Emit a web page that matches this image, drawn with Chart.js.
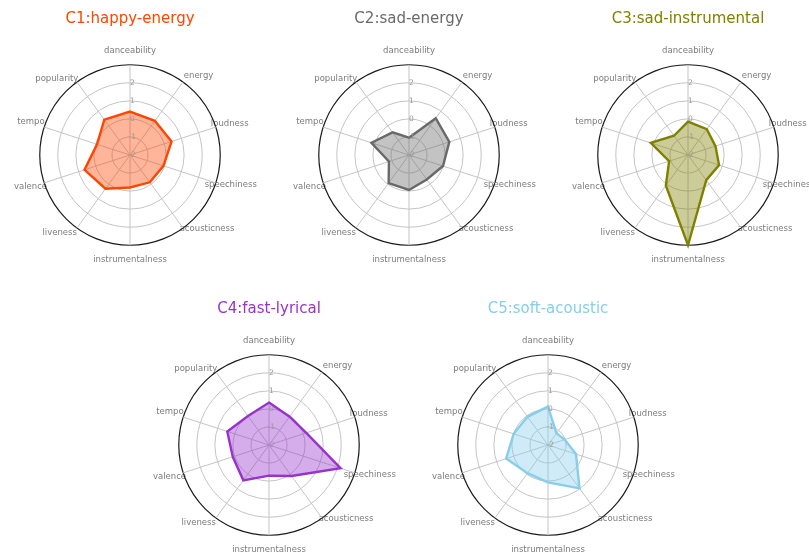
<!DOCTYPE html>
<html>
<head>
<meta charset="utf-8">
<title>Cluster profiles</title>
<script src="https://cdn.jsdelivr.net/npm/chart.js@4"></script>
<style>
  html, body { margin: 0; padding: 0; background: #ffffff; overflow: hidden; }
  body { position: relative; width: 809px; height: 556px; }
  .panel { position: absolute; }
  .panel canvas { display: block; }
</style>
</head>
<body>
<script>
// ---- data -------------------------------------------------------------
const features = ['danceability', 'energy', 'loudness', 'speechiness', 'acousticness',
                  'instrumentalness', 'liveness', 'valence', 'tempo', 'popularity'];

const clusterTitles = ['C1:happy-energy', 'C2:sad-energy', 'C3:sad-instrumental',
                       'C4:fast-lyrical', 'C5:soft-acoustic'];

// standardized feature means per cluster (same order as features)
const happyEnergy     = [0.41, 0.34, 0.42, -0.05, -0.13, -0.20, 0.31, 0.65, -0.08, 0.42];
const sadEnergy       = [-1.04, 0.52, 0.35, -0.02, -0.32, -0.06, -0.08, -0.83, 0.19, -0.45];
const sadInstrumental = [-0.15, -0.23, -0.40, -0.19, -0.28, 3.00, 0.09, -0.90, 0.17, -0.68];
const fastLyrical     = [0.35, -0.06, 0.17, 2.17, 0.12, -0.30, 0.42, 0.11, 0.43, -0.02];
const softAcoustic    = [0.13, -1.20, -1.03, -0.37, 0.97, 0.07, -0.07, 0.44, 0.00, -0.07];

const clusterValues = [happyEnergy, sadEnergy, sadInstrumental, fastLyrical, softAcoustic];

// radial axis
const scaleMin = -2;
const scaleMax = 3;
const scaleTicks = [-2, -1, 0, 1, 2];

// ---- styling & layout -------------------------------------------------
const FONT = "'DejaVu Sans', 'Liberation Sans', sans-serif";
const clusterColors = ['#ff4500', '#696969', '#808000', '#9932cc', '#87ceeb'];
const FILL_ALPHA = 0.4;

// polar centers of the five panels (two rows)
const panelCenters = [[130, 155], [409, 155], [688, 155], [269, 445], [548, 445]];
const POLAR_RADIUS = 90;     // radius of the outer ring
const TITLE_GAP = 136;       // distance from title middle to polar center
const TITLE_SIZE = 15;
const TITLE_PAD_TOP = 4;

// per-feature spacing of the feature names from the outer ring
const LABEL_PAD = [5.4, -2.5, -9, -15.5, -9.5, 5.4, -3.7, -6.8, -4.2, -6.2];

function withAlpha(hex, a) {
  const n = parseInt(hex.slice(1), 16);
  return `rgba(${(n >> 16) & 255}, ${(n >> 8) & 255}, ${n & 255}, ${a})`;
}

// keep each title centred above its own polar axis
const centerTitleOnPolar = {
  id: 'centerTitleOnPolar',
  afterLayout(chart) {
    const tb = chart.titleBlock;
    const r = chart.scales.r;
    if (!tb || !r) return;
    const shift = r.xCenter - (tb.left + tb.right) / 2;
    tb.left += shift;
    tb.right += shift;
  }
};

function makeConfig(i) {
  const color = clusterColors[i];
  return {
    type: 'radar',
    data: {
      labels: features,
      datasets: [{
        label: clusterTitles[i],
        data: clusterValues[i],
        borderColor: color,
        backgroundColor: withAlpha(color, FILL_ALPHA),
        borderWidth: 2.4,
        pointRadius: 0,
        pointHoverRadius: 0,
        fill: 'start',
        tension: 0
      }]
    },
    options: {
      responsive: false,
      animation: false,
      devicePixelRatio: 1,
      layout: { padding: 0 },
      plugins: {
        legend: { display: false },
        tooltip: { enabled: false },
        title: {
          display: true,
          text: clusterTitles[i],
          color: color,
          font: { family: FONT, size: TITLE_SIZE, weight: 'normal' },
          padding: { top: TITLE_PAD_TOP, bottom: 0 }
        }
      },
      scales: {
        r: {
          min: scaleMin,
          max: scaleMax,
          beginAtZero: false,
          angleLines: { color: '#c4c4c4', lineWidth: 1 },
          grid: {
            circular: true,
            color: (ctx) => ctx.tick && ctx.tick.value === scaleMax ? '#1a1a1a' : '#c4c4c4',
            lineWidth: (ctx) => ctx.tick && ctx.tick.value === scaleMax ? 1.2 : 1
          },
          ticks: {
            stepSize: 1,
            z: 1,
            color: '#999999',
            font: { family: FONT, size: 7.5 },
            showLabelBackdrop: false,
            backdropPadding: 0,
            callback: (v) => scaleTicks.includes(v) ? '  ' + v : ''
          },
          pointLabels: {
            color: '#7c7c7c',
            font: { family: FONT, size: 8.5 },
            padding: (ctx) => LABEL_PAD[ctx.index]
          }
        }
      }
    },
    plugins: [centerTitleOnPolar]
  };
}

// size each canvas so its polar ring has the common radius and title spacing
function buildPanel(i) {
  const wrap = document.createElement('div');
  wrap.className = 'panel';
  const canvas = document.createElement('canvas');
  wrap.appendChild(canvas);
  document.body.appendChild(wrap);

  let w = 268, h = 262, chart = null;
  for (let k = 0; k < 10; k++) {
    canvas.width = w;
    canvas.height = h;
    canvas.style.width = w + 'px';
    canvas.style.height = h + 'px';
    chart = new Chart(canvas, makeConfig(i));
    const r = chart.scales.r;
    const titleMid = chart.titleBlock.top + TITLE_PAD_TOP + TITLE_SIZE * 0.6;
    const dR = POLAR_RADIUS - r.drawingArea;
    const dGap = TITLE_GAP - (r.yCenter - titleMid);
    if ((Math.abs(dR) < 0.5 && Math.abs(dGap) < 0.75) || k === 9) break;
    chart.destroy();
    w += Math.round(dR * 1.9) || Math.sign(dR);
    h += Math.round(dGap * 2);
  }
  const r = chart.scales.r;
  const [cx, cy] = panelCenters[i];
  wrap.style.left = (cx - r.xCenter) + 'px';
  wrap.style.top = (cy - r.yCenter) + 'px';
  return chart;
}

clusterTitles.forEach((_, i) => buildPanel(i));
</script>
</body>
</html>
